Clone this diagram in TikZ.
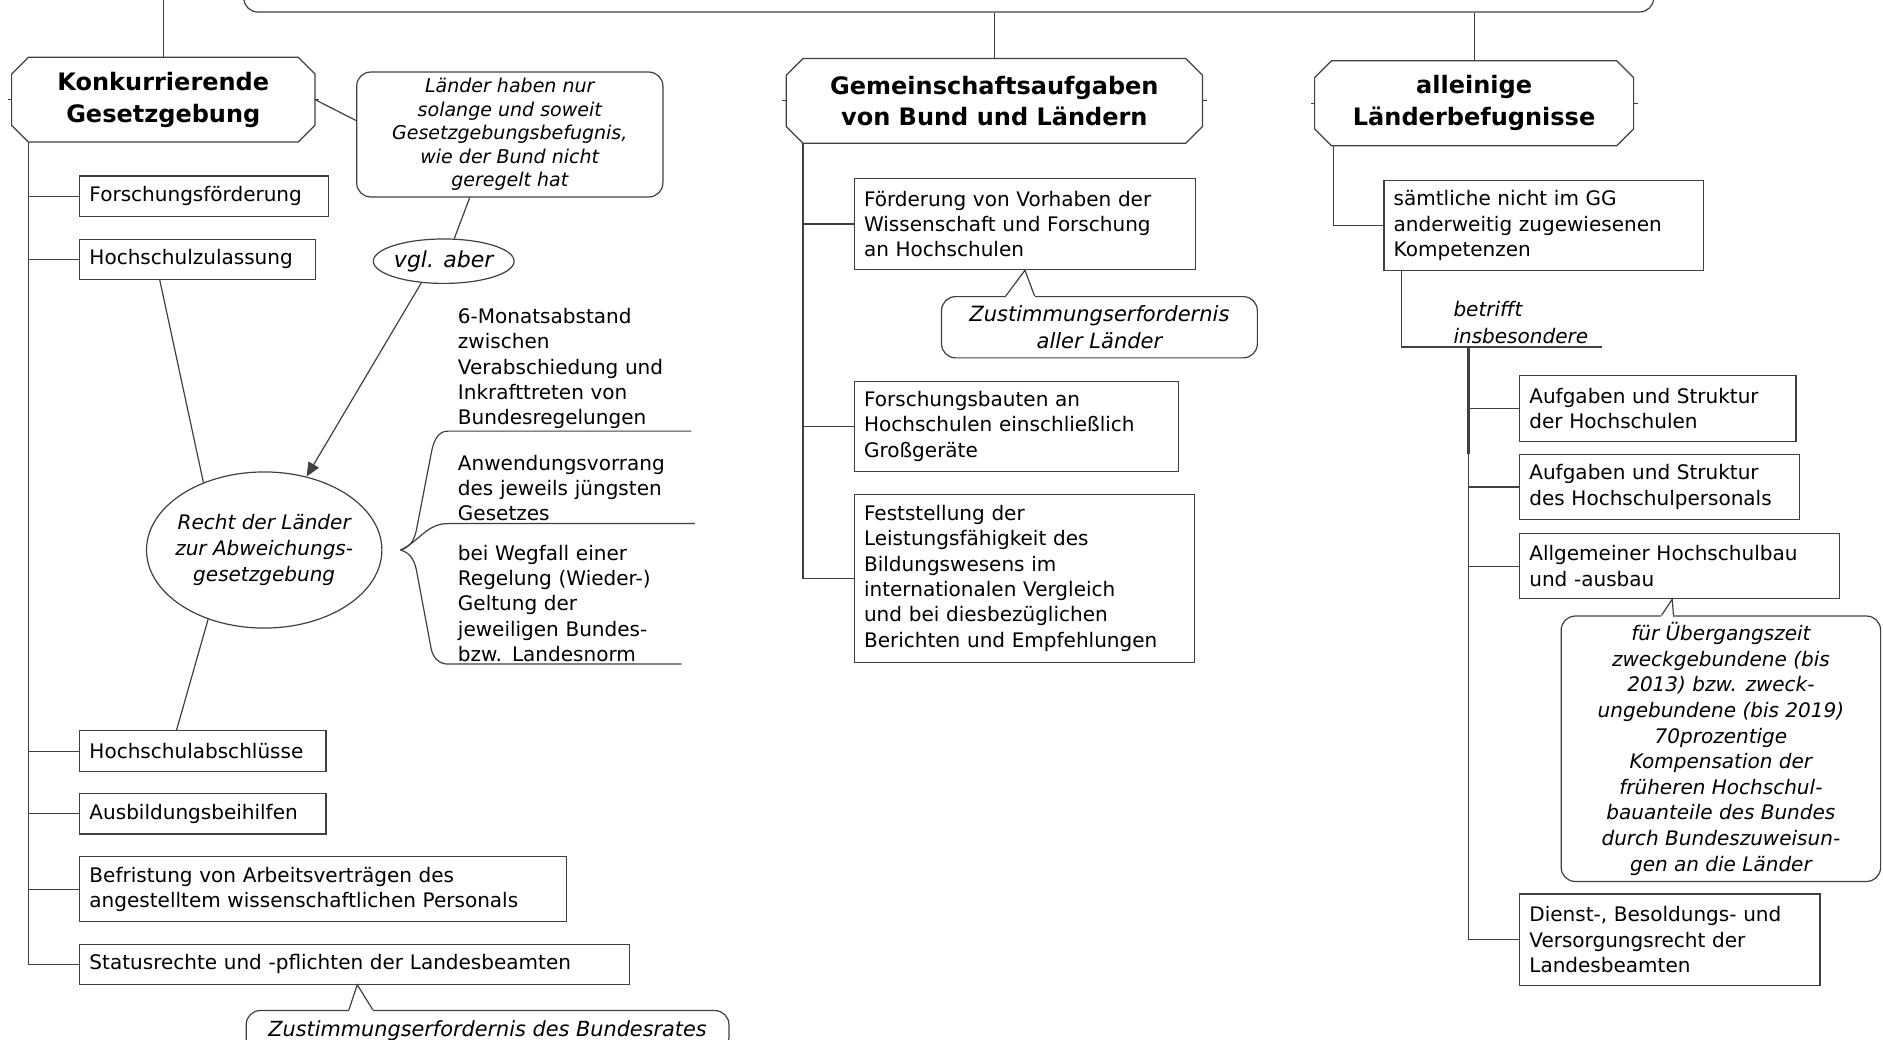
\documentclass[tikz,border=0pt]{standalone}
\usepackage{fontspec}
\setmainfont{DejaVu Sans}
\usetikzlibrary{arrows.meta,calc,shapes.geometric}
\hyphenpenalty=10000
\tikzset{
  thinline/.style={draw=black!75, line width=0.6pt},
  head/.style={minimum height=42pt, inner sep=0pt, align=center, font=\fontsize{12}{15.8}\selectfont\bfseries},
  item/.style={thinline, rectangle, anchor=north west, align=left, inner xsep=4.8pt, inner ysep=0pt, font=\fontsize{10}{12.7}\selectfont},
  note/.style={thinline, rounded corners=7pt, align=center, inner sep=0pt, font=\fontsize{10}{12.8}\selectfont\itshape},
  oval/.style={thinline, ellipse, inner sep=0pt},
  brtext/.style={anchor=south west, align=left, inner xsep=4.8pt, inner ysep=1pt, font=\fontsize{10}{12.6}\selectfont},
}
\begin{document}
\begin{tikzpicture}[x=0.6pt, y=-0.6pt]
\useasboundingbox (0,0) rectangle (1568,866);
\clip (0,0) rectangle (1568,866);
\coordinate (topedge) at (0,0);

% top frame, cut off by the page
\node[thinline, rounded corners=7pt, minimum width=704.4pt, minimum height=36pt] (frame) at (790,-20) {};

% headers
\node[head, minimum width=151.2pt] (kg) at (136,83) {Konkurrierende\\Gesetzgebung};
\node[head, minimum width=207.6pt] (ga) at (828,84) {Gemeinschaftsaufgaben\\von Bund und Ländern};
\node[head, minimum width=159pt] (al) at (1227.5,86) {alleinige\\Länderbefugnisse};
\foreach \h in {kg,ga,al}{
  \draw[thinline] ([xshift=8.4pt]\h.north west) -- ([xshift=-8.4pt]\h.north east) -- ([yshift=-8.4pt]\h.north east) -- ([yshift=8.4pt]\h.south east) -- ([xshift=-8.4pt]\h.south east) -- ([xshift=8.4pt]\h.south west) -- ([yshift=8.4pt]\h.south west) -- ([yshift=-8.4pt]\h.north west) -- cycle;
  \draw[thinline] (\h.west) -- ++(-2pt,0) (\h.east) -- ++(2pt,0);
}
\draw[thinline] (kg.north) -- (kg.north |- topedge);
\draw[thinline] (ga.north) -- (ga.north |- frame.south);
\draw[thinline] (al.north) -- (al.north |- frame.south);

% konkurrierende Gesetzgebung
\node[item, minimum height=20.4pt, text width=114.6pt] (ff) at (66,146) {Forschungsförderung};
\node[item, minimum height=19.8pt, text width=108pt] (hz) at (66,199) {Hochschulzulassung};
\node[item, minimum height=20.4pt, text width=113.4pt] (ha) at (66,608) {Hochschulabschlüsse};
\node[item, minimum height=20.4pt, text width=113.4pt] (ab) at (66,660) {Ausbildungsbeihilfen};
\node[item, minimum height=32.4pt, text width=233.4pt] (bf) at (66,713) {Befristung von Arbeitsverträgen des\\angestelltem wissenschaftlichen Personals};
\node[item, minimum height=19.8pt, text width=265.2pt] (sr) at (66,786) {Statusrechte und -pflichten der Landesbeamten};
\coordinate (lt) at ([xshift=8.4pt]kg.south west);
\draw[thinline] (lt) |- (sr.west);
\foreach \n in {ff,hz,ha,ab,bf} \draw[thinline] (lt |- \n.west) -- (\n.west);

\node[note, minimum width=153pt, minimum height=62.4pt, font=\fontsize{9.5}{11.7}\selectfont\itshape] (lh) at (424.5,112) {Länder haben nur\\solange und soweit\\Gesetzgebungsbefugnis,\\wie der Bund nicht\\geregelt hat};
\node[note, anchor=north, minimum width=241.2pt, minimum height=20.4pt, font=\fontsize{10.4}{13}\selectfont\itshape] (zb) at (406,841) {Zustimmungserfordernis des Bundesrates};
\draw[white, line width=1.6pt] ([xshift=51.6pt]zb.north west) -- ([xshift=63.6pt]zb.north west);
\draw[thinline] ([xshift=51.6pt]zb.north west) -- ([xshift=1.2pt]sr.south) -- ([xshift=63.6pt]zb.north west);

\node[oval, minimum width=70.2pt, minimum height=22.2pt, font=\fontsize{11}{13}\selectfont\itshape] (vgl) at (369.5,217.5) {vgl. aber};
\node[oval, minimum width=117.6pt, minimum height=78pt] (recht) at (220,458) {};
\node[align=center, font=\fontsize{10}{13.2}\selectfont\itshape] (rechttxt) at (recht) {Recht der Länder\\zur Abweichungs-\\gesetzgebung};

\draw[thinline] (kg.east) -- ([yshift=7pt]lh.west);
\draw[thinline] ([xshift=-20pt]lh.south) -- (vgl.65);
\draw[thinline, -{Triangle[length=7pt,width=6pt]}] (vgl.224) -- (recht.60);
\draw[thinline] ([xshift=40.2pt]hz.south west) -- (recht.132);
\draw[thinline] (recht.231) -- ([xshift=48.6pt]ha.north west);

% Abweichungsgesetzgebung
\coordinate (brtip) at ([xshift=9pt]recht.east);
\node[brtext, text width=111.6pt] (br1) at (373,359) {6-Monatsabstand\\zwischen\\Verabschiedung und\\Inkrafttreten von\\Bundesregelungen};
\node[brtext, text width=113.4pt] (br2) at (373,436) {Anwendungsvorrang\\des jeweils jüngsten\\Gesetzes};
\node[brtext, text width=106.8pt] (br3) at (373,553) {bei Wegfall einer\\Regelung (Wieder-)\\Geltung der\\jeweiligen Bundes-\\bzw. Landesnorm};
\draw[thinline] (brtip) to[out=15,in=-100] (347,440) -- (359,378) to[out=80,in=180] (br1.south west) -- (br1.south east);
\draw[thinline] (brtip) to[out=25,in=180] (br2.south west) -- (br2.south east);
\draw[thinline] (brtip) to[out=-15,in=100] (347,476) -- (359,540) to[out=-80,in=180] (br3.south west) -- (br3.south east);

% Gemeinschaftsaufgaben
\node[item, minimum height=45.6pt, text width=160.8pt] (fv) at (711,148) {Förderung von Vorhaben der\\Wissenschaft und Forschung\\an Hochschulen};
\node[item, minimum height=45pt, text width=152.4pt] (fb) at (711,317) {Forschungsbauten an\\Hochschulen einschließlich\\Großgeräte};
\node[item, minimum height=84pt, text width=160.2pt] (fs) at (711,411) {Feststellung der\\Leistungsfähigkeit des\\Bildungswesens im\\internationalen Vergleich\\und bei diesbezüglichen\\Berichten und Empfehlungen};
\coordinate (ct) at ([xshift=8.4pt]ga.south west);
\draw[thinline] (ct) |- (fs.west);
\foreach \n in {fv,fb} \draw[thinline] (ct |- \n.west) -- (\n.west);

\node[note, minimum width=157.8pt, minimum height=30.6pt, font=\fontsize{10.5}{13.2}\selectfont\itshape] (za) at (915.5,272.5) {Zustimmungserfordernis\\aller Länder};
\draw[white, line width=1.6pt] ([xshift=32.4pt]za.north west) -- ([xshift=46.8pt]za.north west);
\draw[thinline] ([xshift=32.4pt]za.north west) -- (fv.south) -- ([xshift=46.8pt]za.north west);

% alleinige Länderbefugnisse
\node[item, minimum height=45pt, text width=150pt] (sn) at (1152,150) {sämtliche nicht im GG\\anderweitig zugewiesenen\\Kompetenzen};
\draw[thinline] ([xshift=9.6pt]al.south west) |- (sn.west);
\node[anchor=south west, align=left, inner xsep=0pt, inner ysep=1.5pt, text width=74pt, font=\fontsize{10}{13.2}\selectfont\itshape] (bt) at (1210,289) {betrifft\\insbesondere};
\draw[thinline] ([xshift=9pt]sn.south west) |- (bt.south east);

\node[item, minimum height=33pt, text width=128.4pt] (as1) at (1265,312) {Aufgaben und Struktur\\der Hochschulen};
\node[item, minimum height=32.4pt, text width=130.2pt] (as2) at (1265,378) {Aufgaben und Struktur\\des Hochschulpersonals};
\node[item, minimum height=32.4pt, text width=150pt] (ah) at (1265,444) {Allgemeiner Hochschulbau\\und -ausbau};
\node[item, minimum height=45.6pt, text width=140.4pt] (dbv) at (1265,744) {Dienst-, Besoldungs- und\\Versorgungsrecht der\\Landesbeamten};
\coordinate (rt) at ([xshift=7.8pt]bt.south west);
\draw[thinline, line width=1.3pt] (rt) -- ++(0,89);
\draw[thinline] (rt) |- (dbv.west);
\foreach \n in {as1,as2,ah} \draw[thinline] (rt |- \n.west) -- (\n.west);

\node[note, minimum width=159.6pt, minimum height=132.6pt] (ue) at (1433,623.5) {für Übergangszeit\\zweckgebundene (bis\\2013) bzw. zweck-\\ungebundene (bis 2019)\\70prozentige\\Kompensation der\\früheren Hochschul-\\bauanteile des Bundes\\durch Bundeszuweisun-\\gen an die Länder};
\draw[white, line width=1.6pt] ([xshift=50.4pt]ue.north west) -- ([xshift=56.4pt]ue.north west);
\draw[thinline] ([xshift=50.4pt]ue.north west) -- ([xshift=-3.6pt]ah.south) -- ([xshift=56.4pt]ue.north west);
\end{tikzpicture}
\end{document}
